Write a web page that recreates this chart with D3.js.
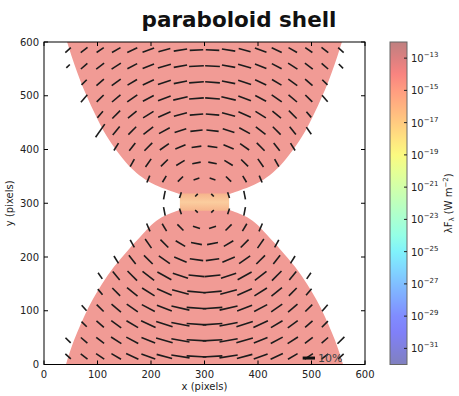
<!DOCTYPE html>
<html>
<head>
<meta charset="utf-8">
<script src="https://cdn.jsdelivr.net/npm/d3@7"></script>
<style>
  body { margin: 0; background: #fff; }
  svg text { font-family: "DejaVu Sans", sans-serif; }
</style>
</head>
<body>
<svg id="chart" width="459" height="396"></svg>
<script>
// axis ticks
const xTicks = [0, 100, 200, 300, 400, 500, 600];
const yTicks = [0, 100, 200, 300, 400, 500, 600];
const cbExponents = [-13, -15, -17, -19, -21, -23, -25, -27, -29, -31];
const cbDomain = [-32, -12];

// polarisation vectors: one row per y, columns every 30 px starting at rowStart
const colStep = 30;
const rowY = [585, 555, 525, 495, 465, 435, 405, 375, 345, 315, 285, 255, 225, 195, 165, 135, 105, 75, 45, 15];
const rowStart = [45, 45, 75, 75, 105, 105, 135, 165, 195, 225, 225, 195, 165, 135, 105, 105, 75, 75, 45, 45];
const rowAngle = [
  [42, 38, 34, 30, 25, 20, 15, 9, 3, -3, -9, -15, -20, -25, -30, -34, -38, -42],
  [45, 41, 37, 33, 28, 22, 16, 10, 3, -3, -10, -16, -22, -28, -33, -37, -41, -45],
  [45, 41, 36, 31, 25, 18, 11, 4, -4, -11, -18, -25, -31, -36, -41, -45],
  [49, 45, 40, 35, 28, 21, 13, 4, -4, -13, -21, -28, -35, -40, -45, -49],
  [50, 45, 39, 32, 24, 15, 5, -5, -15, -24, -32, -39, -45, -50],
  [55, 51, 45, 38, 29, 18, 6, -6, -18, -29, -38, -45, -51, -55],
  [58, 52, 45, 35, 23, 8, -8, -23, -35, -45, -52, -58],
  [61, 55, 45, 31, 11, -11, -31, -45, -55, -61],
  [67, 59, 45, 18, -18, -45, -59, -67],
  [79, 72, 45, -45, -72, -79],
  [-79, -72, -45, 45, 72, 79],
  [-67, -59, -45, -18, 18, 45, 59, 67],
  [-61, -55, -45, -31, -11, 11, 31, 45, 55, 61],
  [-58, -52, -45, -35, -23, -8, 8, 23, 35, 45, 52, 58],
  [-55, -51, -45, -38, -29, -18, -6, 6, 18, 29, 38, 45, 51, 55],
  [-50, -45, -39, -32, -24, -15, -5, 5, 15, 24, 32, 39, 45, 50],
  [-49, -45, -40, -35, -28, -21, -13, -4, 4, 13, 21, 28, 35, 40, 45, 49],
  [-45, -41, -36, -31, -25, -18, -11, -4, 4, 11, 18, 25, 31, 36, 41, 45],
  [-45, -41, -37, -33, -28, -22, -16, -10, -3, 3, 10, 16, 22, 28, 33, 37, 41, 45],
  [-42, -38, -34, -30, -25, -20, -15, -9, -3, 3, 9, 15, 20, 25, 30, 34, 38, 42]
];
// polarisation degree (%)
const rowLength = [
  [6, 7, 7, 8, 9, 10, 10, 11, 11, 11, 11, 10, 10, 9, 8, 7, 7, 6],
  [4, 7, 8, 9, 9, 10, 11, 11, 12, 12, 11, 11, 10, 9, 9, 8, 7, 5],
  [6, 8, 9, 9, 10, 11, 11, 12, 12, 11, 11, 10, 9, 9, 8, 6],
  [8, 8, 9, 10, 10, 11, 12, 12, 12, 12, 11, 10, 10, 9, 8, 7],
  [7, 9, 9, 10, 11, 11, 11, 11, 11, 11, 10, 9, 9, 6],
  [13, 9, 9, 10, 10, 10, 10, 10, 10, 10, 10, 9, 8, 7],
  [7, 8, 9, 9, 9, 8, 8, 9, 9, 9, 8, 7],
  [7, 8, 8, 8, 7, 7, 8, 8, 8, 7],
  [6, 6, 6, 5, 5, 6, 6, 6],
  [7, 5, 3, 3, 5, 7],
  [7, 5, 3, 3, 5, 7],
  [7, 7, 7, 6, 6, 7, 7, 7],
  [7, 9, 9, 9, 9, 9, 9, 9, 9, 7],
  [7, 9, 10, 11, 11, 11, 11, 11, 11, 10, 9, 7],
  [6, 9, 11, 12, 13, 13, 13, 13, 13, 13, 12, 11, 9, 6],
  [6, 9, 11, 12, 13, 14, 15, 15, 14, 13, 12, 11, 9, 7],
  [6, 8, 10, 11, 12, 13, 15, 16, 16, 15, 13, 12, 11, 10, 8, 7],
  [6, 8, 10, 11, 13, 14, 15, 16, 16, 15, 14, 13, 11, 10, 8, 7],
  [6, 7, 8, 10, 11, 12, 14, 15, 16, 16, 15, 14, 12, 11, 10, 8, 7, 8],
  [6, 7, 8, 9, 11, 12, 13, 15, 16, 16, 15, 13, 12, 11, 9, 8, 7, 6]
];

// outline of the shell: half width about x = 300 at each height
const shellAxis = 300;
const topEdgeY = [317, 322, 330, 344, 360, 381, 419, 450, 481, 512, 543, 575, 610];
const topEdgeHalf = [46, 60, 85, 112, 132, 152, 180, 197, 212, 226, 238, 249, 260];
const botEdgeY = [288, 283, 275, 260, 245, 213, 182, 150, 120, 90, 60, 30, 0, -10];
const botEdgeHalf = [46, 60, 80, 100, 113, 143, 170, 192, 210, 225, 238, 250, 259, 262];
const coreX = [254, 346];
const coreY = [286, 318];

const legendPct = 10;
const legendAt = [495, 12];

// layout
const margin = { left: 44, top: 42 };
const plotW = 321, plotH = 322.5;
const svg = d3.select('#chart');

const x = d3.scaleLinear().domain([0, 600]).range([margin.left, margin.left + plotW]);
const y = d3.scaleLinear().domain([0, 600]).range([margin.top + plotH, margin.top]);
const len = d3.scaleLinear().domain([0, 10]).range([0, 12.3]);

svg.append('clipPath').attr('id', 'plotclip')
  .append('rect')
  .attr('x', x(0)).attr('y', y(600))
  .attr('width', plotW).attr('height', plotH);

const plot = svg.append('g').attr('clip-path', 'url(#plotclip)');

// shell regions
const shellColor = 'rgb(241,155,149)';
const topPts = topEdgeY.map((v, i) => [v, topEdgeHalf[i]]);
const botPts = botEdgeY.map((v, i) => [v, botEdgeHalf[i]]);
const area = d3.area()
  .y(d => y(d[0]))
  .x0(d => x(shellAxis - d[1]))
  .x1(d => x(shellAxis + d[1]))
  .curve(d3.curveBasis);

plot.append('path').datum(topPts).attr('d', area).attr('fill', shellColor);
plot.append('path').datum(botPts).attr('d', area).attr('fill', shellColor);

const defs = svg.append('defs');
const coreGrad = defs.append('linearGradient').attr('id', 'coreGrad')
  .attr('x1', 0).attr('y1', 0).attr('x2', 0).attr('y2', 1);
coreGrad.append('stop').attr('offset', '0%').attr('stop-color', 'rgb(246,180,140)');
coreGrad.append('stop').attr('offset', '50%').attr('stop-color', 'rgb(251,205,158)');
coreGrad.append('stop').attr('offset', '100%').attr('stop-color', 'rgb(246,180,140)');

plot.append('rect')
  .attr('x', x(coreX[0])).attr('y', y(coreY[1]))
  .attr('width', x(coreX[1]) - x(coreX[0]))
  .attr('height', y(coreY[0]) - y(coreY[1]))
  .attr('rx', 3)
  .attr('fill', 'url(#coreGrad)');

// vectors
const vecs = [];
rowY.forEach((yy, r) => {
  rowAngle[r].forEach((a, k) => {
    vecs.push({ x: rowStart[r] + k * colStep, y: yy, a: a, p: rowLength[r][k] });
  });
});

plot.selectAll('.vec')
  .data(vecs)
  .enter().append('line')
  .attr('class', 'vec')
  .attr('x1', d => x(d.x) - len(d.p) / 2 * Math.cos(d.a * Math.PI / 180))
  .attr('y1', d => y(d.y) + len(d.p) / 2 * Math.sin(d.a * Math.PI / 180))
  .attr('x2', d => x(d.x) + len(d.p) / 2 * Math.cos(d.a * Math.PI / 180))
  .attr('y2', d => y(d.y) - len(d.p) / 2 * Math.sin(d.a * Math.PI / 180))
  .attr('stroke', '#1c1c1c')
  .attr('stroke-width', 1.6);

// legend key
svg.append('line')
  .attr('x1', x(legendAt[0]) - len(legendPct) / 2)
  .attr('x2', x(legendAt[0]) + len(legendPct) / 2)
  .attr('y1', y(legendAt[1])).attr('y2', y(legendAt[1]))
  .attr('stroke', '#111').attr('stroke-width', 3);
svg.append('text')
  .attr('x', x(legendAt[0]) + len(legendPct) / 2 + 3)
  .attr('y', y(legendAt[1]) + 4)
  .attr('font-size', 11).attr('fill', '#444')
  .text(legendPct + '%');

// frame and ticks
svg.append('rect')
  .attr('x', x(0)).attr('y', y(600))
  .attr('width', plotW).attr('height', plotH)
  .attr('fill', 'none').attr('stroke', '#000').attr('stroke-width', 1);

const tickLen = 4;
const ax = svg.append('g').attr('stroke', '#000').attr('stroke-width', 1);
xTicks.forEach(t => {
  ax.append('line').attr('x1', x(t)).attr('x2', x(t)).attr('y1', y(0)).attr('y2', y(0) - tickLen);
  ax.append('line').attr('x1', x(t)).attr('x2', x(t)).attr('y1', y(600)).attr('y2', y(600) + tickLen);
});
yTicks.forEach(t => {
  ax.append('line').attr('x1', x(0)).attr('x2', x(0) + tickLen).attr('y1', y(t)).attr('y2', y(t));
  ax.append('line').attr('x1', x(600)).attr('x2', x(600) - tickLen).attr('y1', y(t)).attr('y2', y(t));
});

svg.selectAll('.xt').data(xTicks).enter().append('text')
  .attr('x', d => x(d)).attr('y', y(0) + 13)
  .attr('text-anchor', 'middle').attr('font-size', 10).attr('fill', '#222')
  .text(d => d);
svg.selectAll('.yt').data(yTicks).enter().append('text')
  .attr('x', x(0) - 5).attr('y', d => y(d) + 3.5)
  .attr('text-anchor', 'end').attr('font-size', 10).attr('fill', '#222')
  .text(d => d);

svg.append('text')
  .attr('x', x(300)).attr('y', 390)
  .attr('text-anchor', 'middle').attr('font-size', 10).attr('fill', '#222')
  .text('x (pixels)');
svg.append('text')
  .attr('transform', `translate(13,${y(300)}) rotate(-90)`)
  .attr('text-anchor', 'middle').attr('font-size', 10).attr('fill', '#222')
  .text('y (pixels)');

// title
svg.append('text')
  .attr('x', 239).attr('y', 27)
  .attr('text-anchor', 'middle')
  .attr('font-size', 21.5).attr('font-weight', 'bold').attr('fill', '#111')
  .text('paraboloid shell');

// colour bar (jet, washed out)
const jet = t => {
  const r = t < 0.35 ? 0 : t < 0.66 ? (t - 0.35) / 0.31 : t < 0.89 ? 1 : 1 - 0.5 * (t - 0.89) / 0.11;
  const g = t < 0.125 ? 0 : t < 0.375 ? (t - 0.125) / 0.25 : t < 0.64 ? 1 : t < 0.91 ? 1 - (t - 0.64) / 0.27 : 0;
  const b = t < 0.11 ? 0.5 + 0.5 * t / 0.11 : t < 0.34 ? 1 : t < 0.65 ? 1 - (t - 0.34) / 0.31 : 0;
  const a = 0.5;
  const f = c => Math.round(255 * (a * c + 1 - a));
  return `rgb(${f(r)},${f(g)},${f(b)})`;
};
const cbGrad = defs.append('linearGradient').attr('id', 'cbGrad')
  .attr('x1', 0).attr('y1', 1).attr('x2', 0).attr('y2', 0);
d3.range(0, 1.0001, 0.05).forEach(t => {
  cbGrad.append('stop').attr('offset', (t * 100) + '%').attr('stop-color', jet(t));
});

const cb = d3.scaleLinear().domain(cbDomain).range([y(0), y(600)]);
const cbX = 390, cbW = 17;
svg.append('rect')
  .attr('x', cbX).attr('y', cb(cbDomain[1]))
  .attr('width', cbW).attr('height', cb(cbDomain[0]) - cb(cbDomain[1]))
  .attr('fill', 'url(#cbGrad)')
  .attr('stroke', '#666').attr('stroke-width', 1);

cbExponents.forEach(e => {
  svg.append('line')
    .attr('x1', cbX + cbW - 3).attr('x2', cbX + cbW)
    .attr('y1', cb(e)).attr('y2', cb(e))
    .attr('stroke', '#222').attr('stroke-width', 1);
  const t = svg.append('text')
    .attr('x', cbX + cbW + 4).attr('y', cb(e) + 4)
    .attr('font-size', 10).attr('fill', '#222');
  t.append('tspan').text('10');
  t.append('tspan').attr('dy', -5).attr('font-size', 7).text('\u2212' + Math.abs(e));
});

const cbl = svg.append('text')
  .attr('transform', `translate(452,${y(300)}) rotate(-90)`)
  .attr('text-anchor', 'middle').attr('font-size', 10).attr('fill', '#222');
cbl.append('tspan').text('\u03bbF');
cbl.append('tspan').attr('dy', 2).attr('font-size', 7).text('\u03bb');
cbl.append('tspan').attr('dy', -2).text(' (W m');
cbl.append('tspan').attr('dy', -4).attr('font-size', 7).text('\u22122');
cbl.append('tspan').attr('dy', 4).text(')');
</script>
</body>
</html>
